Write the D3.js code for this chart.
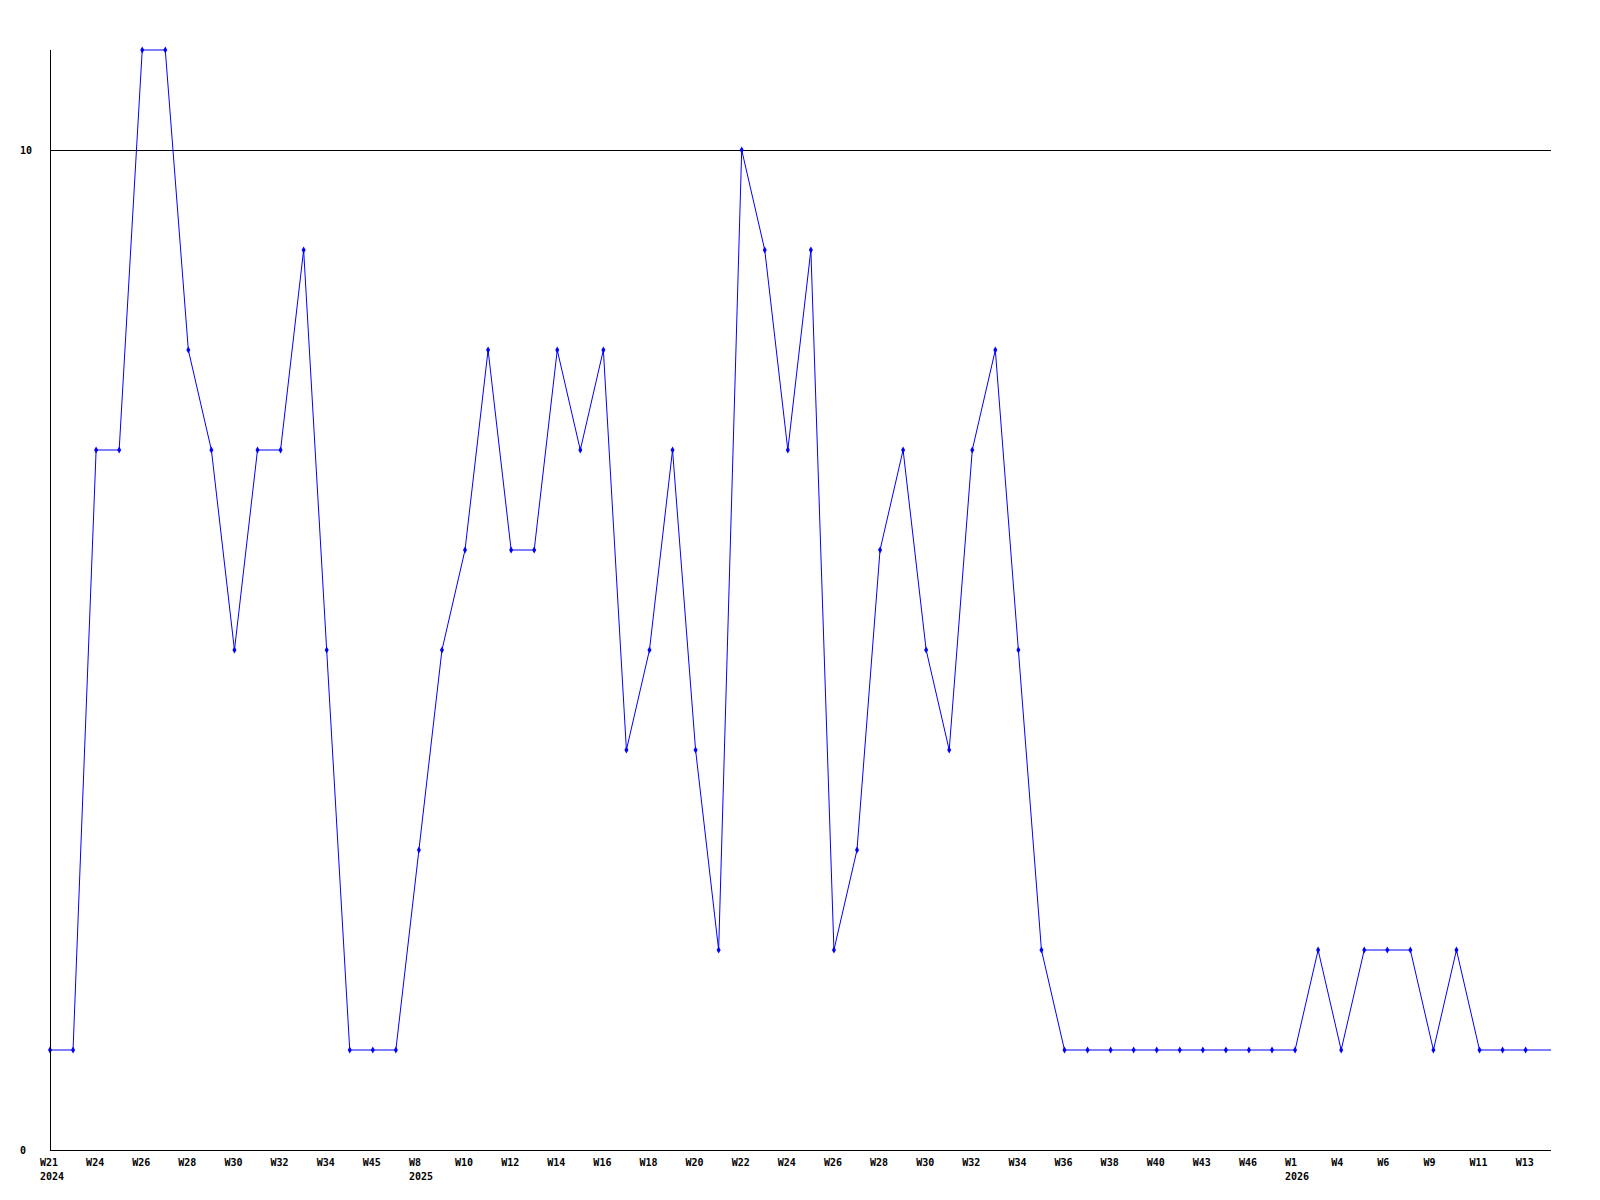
<!DOCTYPE html>
<html>
<head>
<meta charset="utf-8">
<script src="https://cdn.jsdelivr.net/npm/d3@7"></script>
<style>
  body { margin: 0; background: #fff; }
  text { font-family: "DejaVu Sans Mono", monospace; font-weight: bold; font-size: 10px; }
</style>
</head>
<body>
<svg id="chart" width="1600" height="1200"></svg>
<script>
// week labels (only every other one is shown on the axis)
var weeks = ['W21','W23','W24','W25','W26','W27','W28','W29','W30','W31','W32','W33','W34','W35','W45','W47',
  'W8','W9','W10','W11','W12','W13','W14','W15','W16','W17','W18','W19','W20','W21','W22','W23','W24','W25',
  'W26','W27','W28','W29','W30','W31','W32','W33','W34','W35','W36','W37','W38','W39','W40','W42','W43','W45',
  'W46','W47','W1','W3','W4','W5','W6','W8','W9','W10','W11','W12','W13'];
var yearStarts = [0, 16, 54];
var yearLabels = ['2024', '2025', '2026'];
var counts = [1,1,7,7,11,11,8,7,5,7,7,9,5,1,1,1,3,5,6,8,6,6,8,7,8,4,5,7,4,2,
  10,9,7,9,2,3,6,7,5,4,7,8,5,2,1,1,1,1,1,1,1,1,1,1,1,2,1,2,2,2,1,2,1,1,1];
var yTicks = [0, 10];

!(function(d3) {
  var plotLeft = 50, plotRight = 1551, plotTop = 50, plotBottom = 1150;
  var svg = d3.select('#chart');

  var x = d3.scaleLinear().domain([0, 65.1]).range([plotLeft, plotRight]);
  var y = d3.scaleLinear().domain([0, 11]).range([plotBottom, plotTop]);

  // gridline at 10
  svg.selectAll('line.grid')
    .data(yTicks.filter(function(d) { return d > 0; }))
    .enter().append('line')
    .attr('class', 'grid')
    .attr('x1', plotLeft).attr('x2', plotRight)
    .attr('y1', function(d) { return Math.round(y(d)) + 0.5; })
    .attr('y2', function(d) { return Math.round(y(d)) + 0.5; })
    .attr('stroke', '#000');

  // y labels
  svg.selectAll('text.ylab')
    .data(yTicks)
    .enter().append('text')
    .attr('class', 'ylab')
    .attr('x', 20)
    .attr('y', function(d) { return y(d) + 4; })
    .text(function(d) { return d; });

  // x labels
  var shown = d3.range(0, weeks.length, 2);
  svg.selectAll('text.xlab')
    .data(shown)
    .enter().append('text')
    .attr('class', 'xlab')
    .attr('x', function(i) { return x(i) - 10; })
    .attr('y', 1166)
    .text(function(i) { return weeks[i]; });

  svg.selectAll('text.year')
    .data(yearStarts)
    .enter().append('text')
    .attr('class', 'year')
    .attr('x', function(i) { return x(i) - 10; })
    .attr('y', 1180)
    .text(function(i, k) { return yearLabels[k]; });

  // series line, carried on to the right edge
  var pts = counts.map(function(v, i) { return [i, v]; });
  pts.push([x.domain()[1], counts[counts.length - 1]]);
  var line = d3.line()
    .x(function(d) { return x(d[0]); })
    .y(function(d) { return y(d[1]); });

  svg.append('path')
    .attr('d', line(pts))
    .attr('fill', 'none')
    .attr('stroke', '#0000ff')
    .attr('stroke-width', 1);

  svg.selectAll('path.pt')
    .data(counts)
    .enter().append('path')
    .attr('class', 'pt')
    .attr('transform', function(d, i) { return 'translate(' + x(i) + ',' + y(d) + ')'; })
    .attr('d', d3.symbol().type(d3.symbolDiamond).size(14))
    .attr('fill', '#0000ff');

  // axes
  svg.append('line')
    .attr('x1', plotLeft + 0.5).attr('x2', plotLeft + 0.5).attr('y1', plotTop).attr('y2', plotBottom)
    .attr('stroke', '#000');
  svg.append('line')
    .attr('x1', plotLeft).attr('x2', plotRight).attr('y1', plotBottom + 0.5).attr('y2', plotBottom + 0.5)
    .attr('stroke', '#000');
}(d3));
</script>
</body>
</html>
